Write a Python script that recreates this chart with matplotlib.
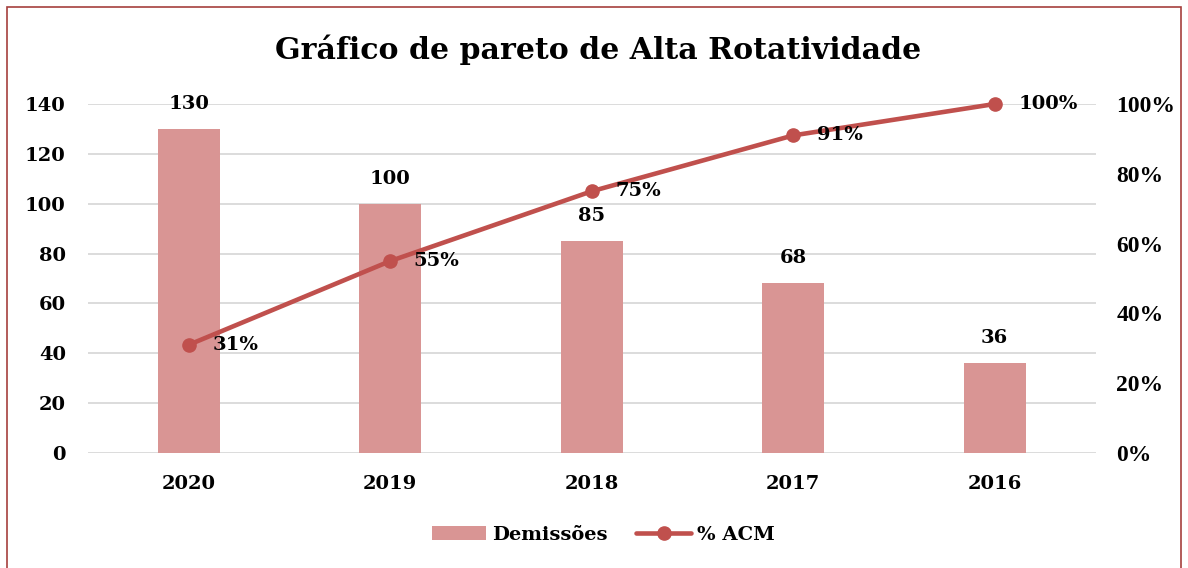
import matplotlib
matplotlib.use("Agg")
import matplotlib.pyplot as plt
from matplotlib.patches import Rectangle
from matplotlib.ticker import FuncFormatter

categories = ["2020", "2019", "2018", "2017", "2016"]
demissoes = [130, 100, 85, 68, 36]
acm = [0.31, 0.55, 0.75, 0.91, 1.00]
acm_labels = ["31%", "55%", "75%", "91%", "100%"]
left_ticks = [0, 20, 40, 60, 80, 100, 120, 140]
right_ticks = [0, 0.2, 0.4, 0.6, 0.8, 1.0]

BAR = "#D99594"
LINE = "#C0504D"
GRID = "#D9D9D9"
FONT = "DejaVu Serif"
FS = 14

fig = plt.figure(figsize=(11.88, 5.68), dpi=100)
fig.patches.append(Rectangle((7/1188, -0.05), 1174/1188, 1 - 7/568 + 0.05,
                             transform=fig.transFigure, fill=False,
                             edgecolor="#A5403D", linewidth=1.2))

ax = fig.add_axes([88/1188, 1 - 453/568, (1095.5 - 88)/1188, (453 - 104)/568])
x = list(range(len(categories)))
bars = ax.bar(x, demissoes, width=0.31, color=BAR, zorder=2, label="Demissões")
ax.set_xlim(-0.5, len(categories) - 0.5)
ax.set_ylim(0, 140)
ax.set_yticks(left_ticks)
ax.yaxis.grid(True, color=GRID, linewidth=1.3, zorder=0)
ax.set_axisbelow(True)
for s in ax.spines.values():
    s.set_visible(False)
ax.tick_params(length=0)
ax.set_xticks(x)
ax.set_xticklabels(categories, fontfamily=FONT, fontweight="bold", fontsize=FS)
ax.tick_params(axis="x", pad=16)
ax.tick_params(axis="y", pad=16)
for lbl in ax.get_yticklabels():
    lbl.set_fontfamily(FONT); lbl.set_fontweight("bold"); lbl.set_fontsize(FS)

for xi, v in zip(x, demissoes):
    ax.annotate(str(v), (xi, v), xytext=(0, 18), textcoords="offset points",
                ha="center", va="center", fontfamily=FONT, fontweight="bold", fontsize=FS)

ax2 = ax.twinx()
ax2.set_ylim(0, 1.0)
ax2.set_yticks(right_ticks)
ax2.yaxis.set_major_formatter(FuncFormatter(lambda v, p: f"{v*100:.0f}%"))
for s in ax2.spines.values():
    s.set_visible(False)
ax2.tick_params(length=0, pad=15)
for lbl in ax2.get_yticklabels():
    lbl.set_fontfamily("Liberation Serif"); lbl.set_fontweight("bold"); lbl.set_fontsize(17)
line, = ax2.plot(x, acm, color=LINE, linewidth=3.3, marker="o", markersize=9.5,
                 solid_capstyle="round", label="% ACM", zorder=3, clip_on=False)
for xi, v, t in zip(x, acm, acm_labels):
    ax2.annotate(t, (xi, v), xytext=(17, 0), textcoords="offset points",
                 ha="left", va="center", fontfamily=FONT, fontweight="bold", fontsize=FS)

fig.text(598/1188, 1 - 50/568, "Gráfico de pareto de Alta Rotatividade", ha="center", va="center",
         fontfamily=FONT, fontweight="bold", fontsize=21.6)

leg = fig.legend([bars, line], ["Demissões", "% ACM"], loc="center", bbox_to_anchor=(603/1188, 1 - 535/568),
                 ncol=2, frameon=False, prop={"family": FONT, "weight": "bold", "size": FS},
                 handlelength=2.8, columnspacing=1.5, handletextpad=0.3)

fig.savefig("out.png", dpi=100)
